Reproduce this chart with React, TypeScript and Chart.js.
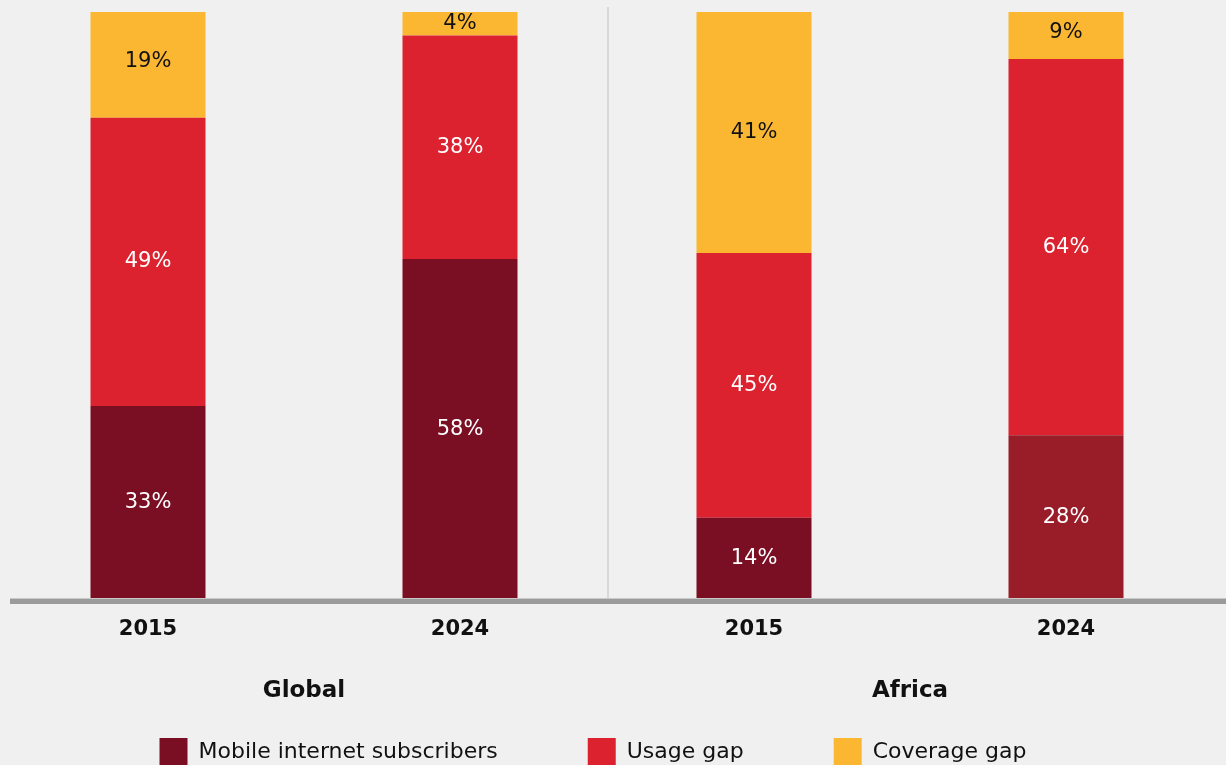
import React, { useEffect, useRef } from "react";
import { Chart, registerables } from "chart.js";

Chart.register(...registerables);

// ---- data ----
const groups = ["Global", "Africa"];
const years = ["2015", "2024"];
const seriesNames = ["Mobile internet subscribers", "Usage gap", "Coverage gap"];
const subscribers2015 = [33, 14];
const usageGap2015 = [49, 45];
const coverageGap2015 = [19, 41];
const subscribers2024 = [58, 28];
const usageGap2024 = [38, 64];
const coverageGap2024 = [4, 9];

// ---- styles ----
const FONT = "'DejaVu Sans', 'Noto Sans', sans-serif";
const BG = "#f0f0f0";
const C_SUB = "#7a0f24";
const C_SUB_AFR24 = "#991c29";
const C_USE = "#dc212f";
const C_COV = "#fbb731";

const clipTop = { left: false, right: false, top: 0, bottom: false } as any;

const bgPlugin = {
  id: "bgPlugin",
  beforeDraw(chart: any) {
    const { ctx, width, height } = chart;
    ctx.save();
    ctx.fillStyle = BG;
    ctx.fillRect(0, 0, width, height);
    // vertical divider between groups
    const x = chart.scales.x;
    const mid = (x.getPixelForTick(0) + x.getPixelForTick(1)) / 2 + 1;
    ctx.fillStyle = "#d8d8d8";
    ctx.fillRect(mid - 1, 7, 2, chart.chartArea.bottom - 7);
    ctx.restore();
  },
};

const overlayPlugin = {
  id: "overlayPlugin",
  afterDatasetsDraw(chart: any) {
    const { ctx, chartArea } = chart;
    const xs = chart.scales.x;
    ctx.save();
    // axis line
    ctx.fillStyle = "#c9c9c9";
    ctx.fillRect(10, chartArea.bottom - 2, chart.width - 10, 1);
    ctx.fillStyle = "#9b9b9b";
    ctx.fillRect(10, chartArea.bottom - 1, chart.width - 10, 5);

    // value labels
    ctx.textAlign = "center";
    ctx.textBaseline = "middle";
    ctx.font = `400 21px ${FONT}`;
    chart.data.datasets.forEach((ds: any, di: number) => {
      const meta = chart.getDatasetMeta(di);
      meta.data.forEach((el: any, i: number) => {
        const v = ds.data[i];
        const { x, y, base } = el.getProps(["x", "y", "base"], true);
        ctx.fillStyle = ds.labelColor || "#ffffff";
        ctx.fillText(`${v}%`, x, (y + base) / 2);
      });
    });

    // year labels under each stack
    ctx.font = `700 21px ${FONT}`;
    ctx.fillStyle = "#111111";
    [0, 3].forEach((di, yi) => {
      const meta = chart.getDatasetMeta(di);
      meta.data.forEach((el: any) => {
        ctx.fillText(years[yi], el.x, chartArea.bottom + 30);
      });
    });

    // group labels
    ctx.font = `700 23px ${FONT}`;
    chart.data.labels.forEach((lab: string, i: number) => {
      ctx.fillText(lab, xs.getPixelForTick(i), chartArea.bottom + 91);
    });
    ctx.restore();
  },
};

export default function App() {
  const ref = useRef<HTMLCanvasElement | null>(null);

  useEffect(() => {
    document.body.style.margin = "0";
    document.body.style.overflow = "hidden";
    document.body.style.background = BG;
    if (!ref.current) return;

    const chart = new Chart(ref.current, {
      type: "bar",
      data: {
        labels: groups,
        datasets: [
          { label: seriesNames[0], data: subscribers2015, stack: years[0], backgroundColor: C_SUB, clip: clipTop },
          { label: seriesNames[1], data: usageGap2015, stack: years[0], backgroundColor: C_USE, clip: clipTop },
          { label: seriesNames[2], data: coverageGap2015, stack: years[0], backgroundColor: C_COV, clip: clipTop, labelColor: "#111111" } as any,
          { label: seriesNames[0], data: subscribers2024, stack: years[1], backgroundColor: [C_SUB, C_SUB_AFR24], clip: clipTop },
          { label: seriesNames[1], data: usageGap2024, stack: years[1], backgroundColor: C_USE, clip: clipTop },
          { label: seriesNames[2], data: coverageGap2024, stack: years[1], backgroundColor: C_COV, clip: clipTop, labelColor: "#111111" } as any,
        ],
      },
      options: {
        animation: false,
        responsive: true,
        maintainAspectRatio: false,
        datasets: {
          bar: { categoryPercentage: 1.0297, barPercentage: 0.3686, borderWidth: 0 },
        },
        layout: { padding: { top: 12, right: 40, left: 0, bottom: 0 } },
        plugins: {
          tooltip: { enabled: false },
          legend: {
            position: "bottom",
            labels: {
              filter: (item: any) => item.datasetIndex < 3,
              boxWidth: 28,
              boxHeight: 28,
              padding: 90,
              color: "#111111",
              font: { family: FONT, size: 22 },
            },
          },
        },
        scales: {
          x: {
            type: "category",
            offset: false,
            stacked: true,
            grid: { display: false, drawTicks: false },
            border: { display: false },
            ticks: { display: false },
            afterFit: (s: any) => { s.height = 48; },
          },
          y: {
            type: "linear",
            position: "left",
            stacked: true,
            min: 0,
            max: 100,
            grid: { display: false },
            border: { display: false },
            ticks: { display: false },
            afterFit: (s: any) => { s.width = 304; },
          },
          y2: {
            type: "linear",
            position: "right",
            grid: { display: false },
            border: { display: false },
            ticks: { display: false },
            afterFit: (s: any) => { s.width = 276; },
          },
        },
      } as any,
      plugins: [bgPlugin, overlayPlugin],
    });
    return () => chart.destroy();
  }, []);

  return (
    <div style={{ width: 1226, height: 776, position: "relative" }}>
      <canvas ref={ref} />
    </div>
  );
}
